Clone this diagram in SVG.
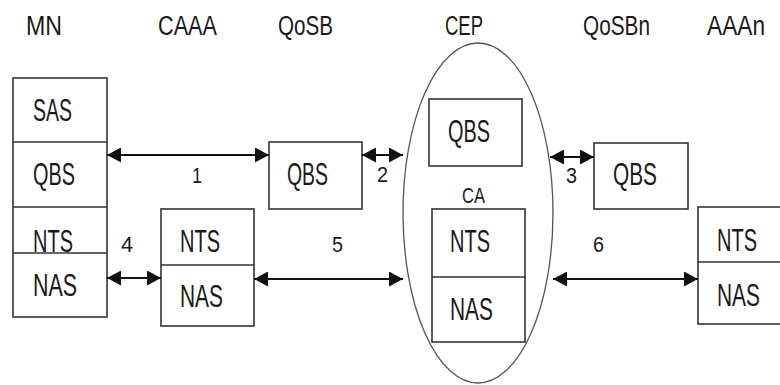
<svg xmlns="http://www.w3.org/2000/svg" width="780" height="385" viewBox="0 0 780 385">
<defs>
<style>
.bx{fill:#fff;stroke:#333;stroke-width:1.6}
.ln{stroke:#333;stroke-width:1.6}
.hd{font-family:"Liberation Sans",Arial,sans-serif;font-size:27px;fill:#1a1a1a}
.tx{font-family:"Liberation Sans",Arial,sans-serif;font-size:32px;fill:#1a1a1a}
.nm{font-family:"Liberation Sans",Arial,sans-serif;font-size:22px;fill:#1a1a1a}
.ar{stroke:#111;stroke-width:2.2;fill:none;marker-start:url(#ah);marker-end:url(#ah)}
</style>
<marker id="ah" viewBox="0 0 14 15" refX="14" refY="7.5" markerWidth="14" markerHeight="15" orient="auto-start-reverse" markerUnits="userSpaceOnUse">
<path d="M0,0 L14,7.5 L0,15 z" fill="#111"/>
</marker>
</defs>
<rect width="780" height="385" fill="#fff"/>

<g id="headers">
<text class="hd" x="26" y="35" textLength="36" lengthAdjust="spacingAndGlyphs">MN</text>
<text class="hd" x="158" y="35" textLength="59" lengthAdjust="spacingAndGlyphs">CAAA</text>
<text class="hd" x="278" y="35" textLength="55" lengthAdjust="spacingAndGlyphs">QoSB</text>
<text class="hd" x="445" y="35" textLength="38" lengthAdjust="spacingAndGlyphs">CEP</text>
<text class="hd" x="583" y="35" textLength="67" lengthAdjust="spacingAndGlyphs">QoSBn</text>
<text class="hd" x="707" y="35" textLength="58" lengthAdjust="spacingAndGlyphs">AAAn</text>
</g>

<g id="cep">
<ellipse cx="478" cy="213" rx="75" ry="170" fill="none" stroke="#555" stroke-width="1.3"/>
<text class="nm" x="462" y="203" textLength="23" lengthAdjust="spacingAndGlyphs">CA</text>
</g>

<g id="mn">
<rect class="bx" x="13" y="78" width="94" height="239"/>
<line class="ln" x1="13" y1="142" x2="107" y2="142"/>
<line class="ln" x1="13" y1="207" x2="107" y2="207"/>
<line class="ln" x1="13" y1="253" x2="107" y2="253"/>
<text class="tx" x="33" y="121" textLength="39" lengthAdjust="spacingAndGlyphs">SAS</text>
<text class="tx" x="33" y="185" textLength="42" lengthAdjust="spacingAndGlyphs">QBS</text>
<text class="tx" x="33" y="252" textLength="40" lengthAdjust="spacingAndGlyphs">NTS</text>
<text class="tx" x="33" y="296" textLength="44" lengthAdjust="spacingAndGlyphs">NAS</text>
</g>

<g id="caaa">
<rect class="bx" x="161" y="209" width="93" height="117"/>
<line class="ln" x1="161" y1="265" x2="254" y2="265"/>
<text class="tx" x="180" y="252" textLength="40" lengthAdjust="spacingAndGlyphs">NTS</text>
<text class="tx" x="180" y="307" textLength="43" lengthAdjust="spacingAndGlyphs">NAS</text>
</g>

<g id="qosb">
<rect class="bx" x="269" y="142" width="93" height="67"/>
<text class="tx" x="287" y="185" textLength="41" lengthAdjust="spacingAndGlyphs">QBS</text>
</g>

<g id="cep-qbs">
<rect class="bx" x="429" y="99" width="93" height="67"/>
<text class="tx" x="448" y="142" textLength="42" lengthAdjust="spacingAndGlyphs">QBS</text>
</g>

<g id="cep-ca">
<rect class="bx" x="432" y="209" width="93" height="133"/>
<line class="ln" x1="432" y1="277" x2="525" y2="277"/>
<text class="tx" x="450" y="252" textLength="40" lengthAdjust="spacingAndGlyphs">NTS</text>
<text class="tx" x="450" y="320" textLength="43" lengthAdjust="spacingAndGlyphs">NAS</text>
</g>

<g id="qosbn">
<rect class="bx" x="594" y="143" width="94" height="66"/>
<text class="tx" x="613" y="185" textLength="44" lengthAdjust="spacingAndGlyphs">QBS</text>
</g>

<g id="aaan">
<rect class="bx" x="698" y="207" width="100" height="117"/>
<line class="ln" x1="698" y1="262" x2="798" y2="262"/>
<text class="tx" x="717" y="251" textLength="40" lengthAdjust="spacingAndGlyphs">NTS</text>
<text class="tx" x="717" y="306" textLength="43" lengthAdjust="spacingAndGlyphs">NAS</text>
</g>

<g id="connectors">
<line class="ar" x1="107" y1="155" x2="269" y2="155"/>
<line class="ar" x1="362" y1="155" x2="403" y2="155"/>
<line class="ar" x1="550" y1="157" x2="594" y2="157"/>
<line class="ar" x1="107" y1="278" x2="161" y2="278"/>
<line class="ar" x1="254" y1="279" x2="403" y2="279"/>
<line class="ar" x1="553" y1="279" x2="698" y2="279"/>
<text class="nm" x="192" y="183" textLength="10" lengthAdjust="spacingAndGlyphs">1</text>
<text class="nm" x="377" y="182" textLength="11" lengthAdjust="spacingAndGlyphs">2</text>
<text class="nm" x="566" y="183" textLength="11" lengthAdjust="spacingAndGlyphs">3</text>
<text class="nm" x="121" y="252" textLength="12" lengthAdjust="spacingAndGlyphs">4</text>
<text class="nm" x="332" y="252" textLength="11" lengthAdjust="spacingAndGlyphs">5</text>
<text class="nm" x="593" y="252" textLength="11" lengthAdjust="spacingAndGlyphs">6</text>
</g>
</svg>
